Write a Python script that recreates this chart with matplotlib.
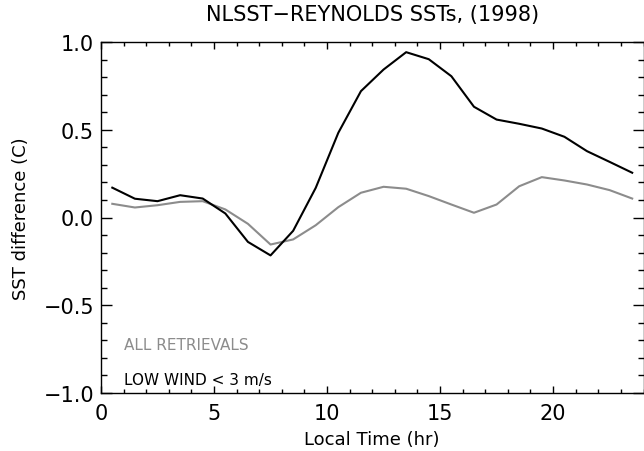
import numpy as np
import matplotlib.pyplot as plt
from matplotlib.ticker import MultipleLocator

# local time (hr), hourly bins centred on the half hour
hours = np.arange(0.5, 24.0, 1.0)

low_wind = [0.17, 0.107, 0.093, 0.127, 0.108, 0.023, -0.139, -0.216,
            -0.076, 0.169, 0.483, 0.72, 0.843, 0.942, 0.902, 0.805,
            0.631, 0.558, 0.534, 0.507, 0.46, 0.378, 0.317, 0.255]

all_retr = [0.078, 0.057, 0.07, 0.089, 0.093, 0.046, -0.036, -0.154,
            -0.125, -0.044, 0.059, 0.141, 0.175, 0.164, 0.122, 0.074,
            0.027, 0.074, 0.178, 0.23, 0.211, 0.188, 0.156, 0.108]

gray = '#8c8c8c'

fig = plt.figure(figsize=(6.44, 4.52), dpi=100)
ax = fig.add_axes([101/644, 1 - 394/452, 542.5/644, 351/452])

ax.plot(hours, all_retr, color=gray, lw=1.5)
ax.plot(hours, low_wind, color='black', lw=1.5)

ax.set_xlim(0, 24)
ax.set_ylim(-1.0, 1.0)
ax.xaxis.set_major_locator(MultipleLocator(5))
ax.xaxis.set_minor_locator(MultipleLocator(1))
ax.yaxis.set_major_locator(MultipleLocator(0.5))
ax.yaxis.set_minor_locator(MultipleLocator(0.1))
ax.yaxis.set_major_formatter(plt.FuncFormatter(lambda v, p: f'{v:.1f}'.replace('-', '\u2212')))

ax.tick_params(axis='both', which='both', direction='in', top=True, right=True,
               labelsize=15, width=1)
ax.tick_params(axis='x', which='major', length=5, pad=7)
ax.tick_params(axis='x', which='minor', length=3)
ax.tick_params(axis='y', which='major', length=8, pad=5)
ax.tick_params(axis='y', which='minor', length=4)
for s in ax.spines.values():
    s.set_linewidth(1)

ax.set_title('NLSST\u2212REYNOLDS SSTs, (1998)', fontsize=15, pad=16)
ax.set_xlabel('Local Time (hr)', fontsize=13, labelpad=5)
ax.set_ylabel('SST difference (C)', fontsize=13, labelpad=10)

ax.text(1.0, -0.75, 'ALL RETRIEVALS', color=gray, fontsize=11)
ax.text(1.0, -0.95, 'LOW WIND < 3 m/s', color='black', fontsize=11)

fig.savefig('out.png', dpi=100)
